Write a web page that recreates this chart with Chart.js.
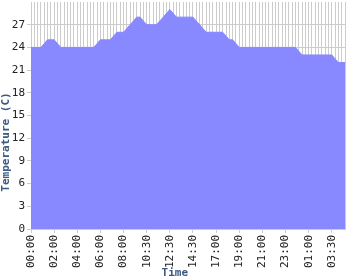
<!DOCTYPE html>
<html>
<head>
<meta charset="utf-8">
<script src="https://cdn.jsdelivr.net/npm/chart.js@4/dist/chart.umd.min.js"></script>
<style>
  html, body { margin: 0; padding: 0; background: #fff; }
</style>
</head>
<body>
<canvas id="tempChart" width="350" height="280"></canvas>
<script>
// Temperature readings, one per sample
const temps = [
  24, 24, 24, 24, 24.5, 25, 25, 25, 24.5, 24,
  24, 24, 24, 24, 24, 24, 24, 24, 24, 24,
  24.5, 25, 25, 25, 25, 25.5, 26, 26, 26, 26.5,
  27, 27.5, 28, 28, 27.5, 27, 27, 27, 27, 27.5,
  28, 28.5, 29, 28.5, 28, 28, 28, 28, 28, 28,
  27.5, 27, 26.5, 26, 26, 26, 26, 26, 26, 25.5,
  25, 25, 24.5, 24, 24, 24, 24, 24, 24, 24,
  24, 24, 24, 24, 24, 24, 24, 24, 24, 24,
  24, 23.5, 23, 23, 23, 23, 23, 23, 23, 23,
  23, 23, 22.5, 22, 22, 22
];
// labelled every 7th sample
const tickLabels = ['00:00', '02:00', '04:00', '06:00', '08:00', '10:30', '12:30',
  '14:30', '17:00', '19:00', '21:00', '23:00', '01:00', '03:30'];
const yTicks = [0, 3, 6, 9, 12, 15, 18, 21, 24, 27];

const labels = temps.map((t, i) => (i % 7 === 0 ? tickLabels[i / 7] : ''));

const ctx = document.getElementById('tempChart').getContext('2d');
const tempChart = new Chart(ctx, {
  type: 'line',
  data: {
    labels: labels,
    datasets: [{
      label: 'Temperature',
      data: temps,
      fill: 'origin',
      backgroundColor: '#8888ff',
      borderColor: '#8888ff',
      borderWidth: 1,
      pointRadius: 0,
      tension: 0
    }]
  },
  options: {
    responsive: false,
    animation: false,
    layout: {
      padding: { left: 0, right: 5, top: 2, bottom: 0 }
    },
    scales: {
      x: {
        afterFit: axis => {
          axis.height = 51;
          axis.paddingLeft = 0;
          axis.paddingRight = 0;
        },
        grid: {
          color: '#cccccc',
          tickLength: 4,
          tickColor: c => (c.index % 7 === 0 ? '#cccccc' : 'rgba(0,0,0,0)')
        },
        border: { color: '#cccccc' },
        ticks: {
          autoSkip: false,
          minRotation: 90,
          maxRotation: 90,
          padding: 2,
          color: '#222',
          font: { family: 'DejaVu Sans Mono', size: 11 }
        },
        title: {
          display: true,
          // trailing spaces nudge the title to the canvas centre
          text: 'Time    ',
          color: '#3b5b80',
          padding: { top: 0, bottom: 0 },
          font: { family: 'DejaVu Sans Mono', size: 11, weight: 'bold' }
        }
      },
      y: {
        min: 0,
        max: 30,
        afterFit: axis => {
          axis.width = 31;
          axis.paddingTop = 0;
          axis.paddingBottom = 0;
        },
        afterBuildTicks: axis => {
          axis.ticks = yTicks.concat([30]).map(v => ({ value: v }));
        },
        grid: {
          color: c => (c.tick && c.tick.value === 30 ? 'rgba(0,0,0,0)' : '#cccccc'),
          tickLength: 4
        },
        border: { color: '#cccccc' },
        ticks: {
          padding: 2,
          color: '#222',
          font: { family: 'DejaVu Sans Mono', size: 11 },
          callback: v => (v === 30 ? '' : v)
        },
        title: {
          display: true,
          text: 'Temperature (C)        ',
          color: '#3b5b80',
          padding: { top: 0, bottom: 2 },
          font: { family: 'DejaVu Sans Mono', size: 11, weight: 'bold' }
        }
      }
    },
    plugins: {
      legend: { display: false },
      tooltip: { enabled: false }
    }
  }
});
</script>
</body>
</html>
